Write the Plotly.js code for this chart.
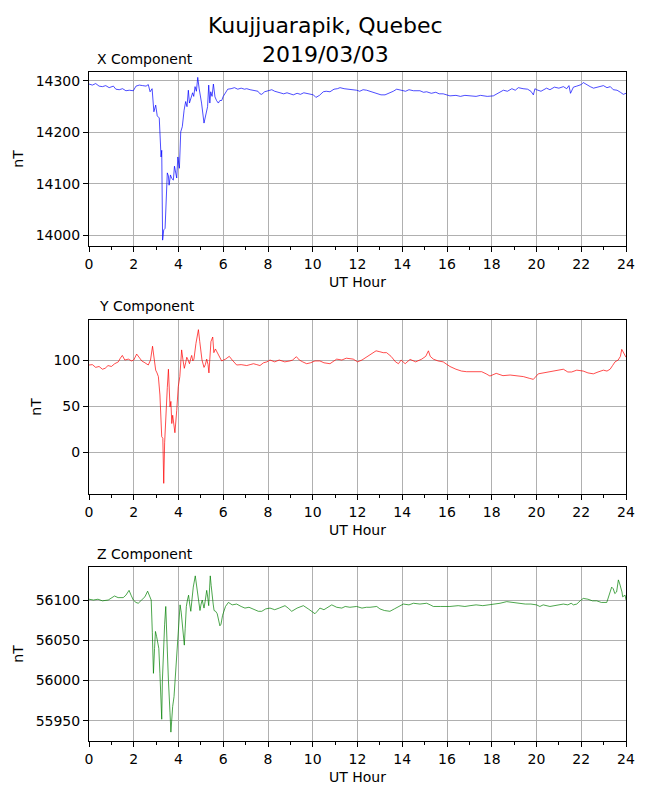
<!DOCTYPE html>
<html>
<head>
<meta charset="utf-8">
<script src="https://cdn.plot.ly/plotly-3.0.1.min.js"></script>
<style>html,body{margin:0;padding:0;background:#fff;}#chart{width:650px;height:800px;}</style>
</head>
<body>
<div id="chart"></div>
<script>
// ---- Data ----
const chartTitle = 'Kuujjuarapik, Quebec<br>2019/03/03';
const panelTitles = ['X Component', 'Y Component', 'Z Component'];
const xLabel = 'UT Hour';
const yLabel = 'nT';

const hoursX = [0.00,0.15,0.3,0.45,0.6,0.75,0.9,1.09,1.2,1.35,1.5,1.65,1.8,1.98,2.1,2.25,2.4,2.55,2.65,2.73,2.82,2.9,2.98,3.05,3.14,3.22,3.25,3.29,3.34,3.4,3.5,3.55,3.58,3.64,3.7,3.77,3.82,3.87,3.92,3.97,4.04,4.1,4.17,4.25,4.32,4.38,4.44,4.49,4.56,4.63,4.68,4.74,4.80,4.86,4.92,4.98,5.03,5.14,5.2,5.26,5.3,5.35,5.40,5.44,5.50,5.56,5.63,5.7,5.78,5.85,5.93,6.0,6.08,6.2,6.35,6.5,6.65,6.8,6.95,7.05,7.2,7.4,7.55,7.64,7.72,7.85,7.94,8.05,8.17,8.3,8.45,8.54,8.7,8.85,9.0,9.13,9.3,9.45,9.6,9.8,10.03,10.14,10.3,10.47,10.6,10.77,10.95,11.1,11.22,11.4,11.6,11.81,11.96,12.1,12.25,12.41,12.6,12.86,13.05,13.23,13.4,13.6,13.75,13.95,14.15,14.3,14.5,14.79,14.95,15.09,15.3,15.5,15.65,15.83,16.0,16.13,16.4,16.6,16.8,17.03,17.3,17.5,17.8,18.07,18.3,18.52,18.7,18.9,19.05,19.19,19.4,19.6,19.75,19.86,19.93,20.0,20.2,20.45,20.6,20.8,21.0,21.2,21.35,21.45,21.52,21.65,21.8,22.0,22.09,22.25,22.4,22.55,22.7,22.85,22.99,23.15,23.3,23.43,23.6,23.75,23.88,24.0];
const valuesX = [14294,14292,14295,14290,14289,14291,14287,14290,14284,14283,14285,14281,14282,14281,14290,14292,14291,14290,14293,14279,14285,14240,14253,14232,14228,14152,14165,13990,14010,14013,14121,14115,14097,14117,14110,14107,14134,14120,14111,14152,14130,14201,14211,14243,14260,14250,14282,14257,14265,14277,14270,14289,14280,14307,14286,14270,14257,14218,14230,14243,14250,14292,14257,14279,14270,14294,14269,14262,14257,14262,14262,14270,14276,14284,14285,14287,14284,14286,14284,14285,14283,14282,14280,14275,14274,14279,14280,14281,14283,14280,14278,14278,14275,14277,14274,14273,14276,14274,14277,14275,14273,14268,14272,14279,14280,14279,14284,14285,14287,14285,14284,14282,14282,14280,14283,14282,14279,14275,14273,14273,14276,14280,14284,14282,14280,14283,14281,14281,14278,14279,14276,14278,14275,14275,14272,14271,14272,14270,14272,14271,14270,14272,14270,14271,14277,14282,14280,14285,14282,14287,14285,14284,14280,14273,14285,14283,14280,14286,14283,14288,14286,14289,14285,14291,14276,14288,14290,14293,14297,14292,14289,14286,14288,14290,14291,14287,14289,14283,14282,14278,14274,14276];

const hoursY = [0.0,0.15,0.3,0.45,0.6,0.72,0.85,1.0,1.15,1.31,1.4,1.49,1.6,1.76,1.9,2.0,2.13,2.25,2.36,2.5,2.65,2.75,2.84,2.92,2.98,3.04,3.1,3.17,3.22,3.25,3.3,3.34,3.38,3.44,3.5,3.55,3.62,3.66,3.7,3.74,3.78,3.84,3.92,3.99,4.06,4.14,4.2,4.26,4.32,4.37,4.43,4.49,4.55,4.59,4.64,4.69,4.78,4.89,4.95,4.99,5.05,5.14,5.2,5.26,5.32,5.36,5.41,5.45,5.53,5.58,5.65,5.73,5.82,5.93,6.1,6.27,6.4,6.6,6.8,7.05,7.2,7.35,7.5,7.64,7.8,7.95,8.09,8.3,8.5,8.75,8.98,9.1,9.27,9.4,9.55,9.73,9.9,10.1,10.32,10.5,10.77,10.9,11.07,11.3,11.5,11.81,12.0,12.2,12.41,12.6,12.83,13.0,13.15,13.3,13.5,13.7,13.83,13.95,14.13,14.35,14.6,14.87,15.05,15.17,15.25,15.39,15.6,15.83,16.0,16.13,16.4,16.65,16.88,17.2,17.55,17.75,17.92,18.2,18.5,18.82,19.1,19.41,19.7,19.86,20.08,20.3,20.6,20.9,21.2,21.4,21.57,21.8,22.09,22.3,22.54,22.75,22.99,23.15,23.29,23.4,23.51,23.65,23.75,23.81,23.9,24.0];
const valuesY = [94.6,95,92,93,90,91,94,93,96,98,102,105,100,101,99,100,106.5,102,99,97,94.6,100,115,100,89,86,82,62,40,16.7,15,-34,10,49,70,90,49,55,31,40,32,21,45,71,82,111,100,91,97,103,100,96,102,105,99,101,118,133,120,111,100,92,95,101,95,86,100,120,125,108,112,108,104,99,101,104,100,94.6,95,94,95,96,95,94,97,98,100,98,100,98,99,100,103.6,100,98,96,97,99,99,97,96,98,101,100,102,101,98,100,103.6,107,110,109,108,108,104,98,96,100,96,100.7,98,101,104,110,104,101,99,98,95,93,90,88,87.3,87,87.3,85,82.6,85.5,83,83.7,83,82,80,79,85,86,88,89,90,87,87,89,88,86,85,87,89,88,90,94,98,100,104,111.6,107,103];

const hoursZ = [0.0,0.2,0.4,0.6,0.86,1.0,1.14,1.3,1.53,1.65,1.79,1.88,1.98,2.1,2.2,2.35,2.5,2.62,2.7,2.78,2.83,2.88,2.93,2.97,3.02,3.07,3.12,3.17,3.21,3.25,3.28,3.32,3.38,3.43,3.47,3.5,3.55,3.58,3.62,3.66,3.7,3.74,3.8,3.84,3.88,3.93,4.0,4.07,4.12,4.15,4.2,4.26,4.3,4.35,4.4,4.45,4.5,4.55,4.6,4.66,4.75,4.8,4.86,4.91,4.96,5.01,5.06,5.1,5.14,5.2,5.26,5.3,5.35,5.39,5.42,5.46,5.5,5.55,5.59,5.66,5.73,5.8,5.85,5.9,5.97,6.1,6.23,6.4,6.6,6.8,6.97,7.15,7.35,7.57,7.72,7.9,8.09,8.3,8.5,8.76,8.9,9.06,9.3,9.58,9.8,10.1,10.2,10.32,10.5,10.85,11.07,11.3,11.45,11.66,11.96,12.2,12.4,12.56,12.86,13.0,13.2,13.45,13.65,13.83,14.05,14.3,14.5,14.79,15.09,15.25,15.39,15.7,16.13,16.5,16.8,17.03,17.3,17.6,17.92,18.15,18.37,18.67,18.9,19.1,19.26,19.5,19.75,20.0,20.15,20.3,20.6,20.8,21.0,21.2,21.4,21.55,21.65,21.8,21.95,22.09,22.3,22.5,22.69,22.9,23.14,23.22,23.29,23.36,23.43,23.5,23.58,23.66,23.72,23.76,23.82,23.85,23.96,24.0];
const valuesZ = [56101,56100,56101,56099,56100,56102,56105,56103,56103,56106,56112,56106,56100,56097,56096,56100,56104,56111,56105,56100,56060,56009,56040,56061,56055,56046,56040,56009,55985,55952,56000,56036,56070,56092,56070,56038,56000,55972,55960,55936,55955,55968,55980,55997,56010,56034,56065,56094,56085,56075,56060,56044,56065,56092,56100,56106,56095,56086,56100,56116,56130,56120,56105,56095,56087,56095,56100,56095,56090,56100,56112,56105,56093,56115,56130,56118,56104,56095,56087,56086,56083,56075,56068,56070,56081,56092,56097,56094,56095,56092,56090,56091,56089,56086,56086,56089,56090,56088,56090,56093,56090,56086,56090,56093,56089,56083,56086,56090,56088,56094,56091,56090,56092,56091,56092,56090,56091,56091,56092,56089,56087,56086,56089,56092,56095,56094,56096,56095,56096,56094,56092,56092,56092,56093,56092,56093,56094,56093,56094,56095,56096,56098,56097,56096,56096,56095,56095,56094,56092,56094,56092,56093,56094,56095,56094,56096,56094,56095,56099,56102,56101,56099,56099,56097,56097,56103,56110,56116,56114,56108,56110,56125,56120,56117,56110,56104,56106,56100];

// ---- Styling ----
const FONT = 'DejaVu Sans, Liberation Sans, sans-serif';
const W = 650, H = 800;
function fy(px){ return 1 - px / H; }
function fx(px){ return (px - 89) / 537; }

function xAxis(anchor){
  return {
    anchor: anchor, domain: [0,1], range: [0,24], tick0: 0, dtick: 2,
    ticks: 'outside', ticklen: 5, tickwidth: 1, tickcolor: '#000',
    minor: {dtick: 1, tick0: 0, ticks: 'outside', ticklen: 3, tickwidth: 1, tickcolor: '#000', showgrid: false},
    showgrid: true, gridcolor: '#b0b0b0', gridwidth: 1,
    showline: true, mirror: true, linecolor: '#000', linewidth: 1,
    zeroline: false, automargin: false,
    tickfont: {family: FONT, size: 14, color: '#000'},
    title: {text: xLabel, standoff: 6, font: {family: FONT, size: 14, color: '#000'}}
  };
}
function yAxis(anchor, top, bottom, range, dtick){
  return {
    anchor: anchor, domain: [fy(bottom), fy(top)], range: range, dtick: dtick, tick0: 0,
    tickformat: 'd',
    ticks: 'outside', ticklen: 5, tickwidth: 1, tickcolor: '#000',
    showgrid: true, gridcolor: '#b0b0b0', gridwidth: 1,
    showline: true, mirror: true, linecolor: '#000', linewidth: 1,
    zeroline: false, automargin: false,
    tickfont: {family: FONT, size: 14, color: '#000'},
    title: {text: yLabel, standoff: 8, font: {family: FONT, size: 14, color: '#000'}}
  };
}

const traces = [
  {x: hoursX, y: valuesX, xaxis: 'x', yaxis: 'y', type: 'scatter', mode: 'lines', line: {color: '#0000ff', width: 0.7}, hoverinfo: 'skip'},
  {x: hoursY, y: valuesY, xaxis: 'x2', yaxis: 'y2', type: 'scatter', mode: 'lines', line: {color: '#ff0000', width: 0.7}, hoverinfo: 'skip'},
  {x: hoursZ, y: valuesZ, xaxis: 'x3', yaxis: 'y3', type: 'scatter', mode: 'lines', line: {color: '#008000', width: 0.7}, hoverinfo: 'skip'}
];

const panelTop = [72, 320, 567], panelBottom = [246, 494, 741];
const panelTitleY = [59, 306, 554];
const panelTitleX = [95, 97, 95];

const annotations = panelTitles.map((t, i) => ({
  text: t, showarrow: false, xref: 'paper', yref: 'paper',
  x: fx(panelTitleX[i]), xanchor: 'left',
  y: fy(panelTitleY[i]), yanchor: 'middle',
  font: {family: FONT, size: 14, color: '#000'}
}));
annotations.push({
  text: chartTitle, showarrow: false, xref: 'paper', yref: 'paper',
  x: fx(325), xanchor: 'center', y: fy(40), yanchor: 'middle',
  font: {family: FONT, size: 22, color: '#000'}
});

const layout = {
  width: W, height: H,
  margin: {l: 89, r: 24, t: 0, b: 0},
  paper_bgcolor: '#fff', plot_bgcolor: '#fff',
  showlegend: false,
  font: {family: FONT, color: '#000'},
  xaxis: xAxis('y'), xaxis2: xAxis('y2'), xaxis3: xAxis('y3'),
  yaxis: yAxis('x', panelTop[0], panelBottom[0], [13978.6, 14317.5], 100),
  yaxis2: yAxis('x2', panelTop[1], panelBottom[1], [-45.6, 143.5], 50),
  yaxis3: yAxis('x3', panelTop[2], panelBottom[2], [55925, 56141], 50),
  annotations: annotations
};

Plotly.newPlot('chart', traces, layout, {staticPlot: true, displayModeBar: false});
</script>
</body>
</html>
